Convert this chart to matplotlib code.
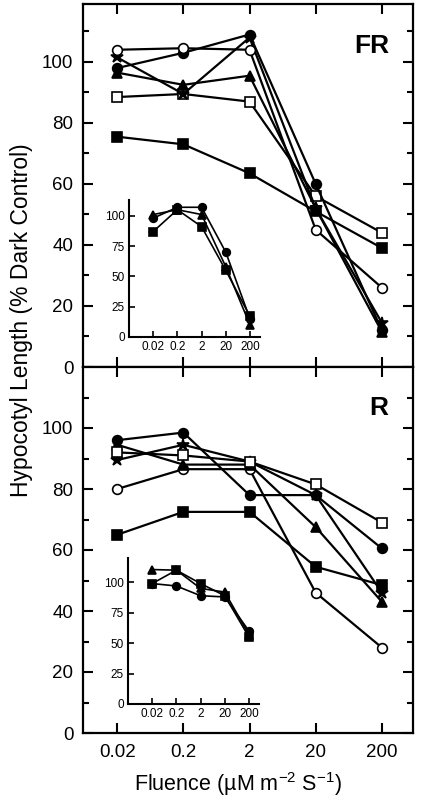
import matplotlib
matplotlib.use("Agg")
import matplotlib.pyplot as plt
from matplotlib.ticker import FixedLocator, NullLocator

plt.rcParams["font.family"] = ["Liberation Sans", "DejaVu Sans"]
plt.rcParams["mathtext.fontset"] = "custom"
plt.rcParams["mathtext.rm"] = "Liberation Sans"
plt.rcParams["mathtext.it"] = "Liberation Sans:italic"

fluence = [0.02, 0.2, 2, 20, 200]
tick_labels = ["0.02", "0.2", "2", "20", "200"]
y_major = [0, 20, 40, 60, 80, 100]
y_minor = [10, 30, 50, 70, 90, 110]
inset_y = [0, 25, 50, 75, 100]

# FR panel (main)
fr_open_circle = [104, 104.5, 104, 45, 26]
fr_filled_circle = [98, 103, 109, 60, 12]
fr_star = [101.5, 89.5, 108, 52, 14.5]
fr_triangle = [96.5, 92.5, 95.5, 52, 11.5]
fr_open_square = [88.5, 89.5, 87, 56, 44]
fr_filled_square = [75.5, 73, 63.5, 51, 39]

# FR inset
fri_circle = [98, 107, 107, 70, 15]
fri_triangle = [101, 105, 101, 58, 10]
fri_square = [87, 105, 91, 55, 17]

# R panel (main)
r_filled_circle = [96, 98.5, 78, 78, 60.5]
r_triangle = [94.5, 88, 88, 67.5, 43]
r_star = [89.5, 94.5, 89, 78, 46]
r_open_square = [92, 91, 89, 81.5, 69]
r_open_circle = [80, 86.5, 86.5, 46, 28]
r_filled_square = [65, 72.5, 72.5, 54.5, 48.5]

# R inset
ri_triangle = [110.5, 110, 95, 92, 57]
ri_square = [99, 110, 99, 89, 55]
ri_circle = [99, 97, 89, 88, 60]

W, H = 421, 801
fig = plt.figure(figsize=(W / 100, H / 100), dpi=100)


def fx(px):
    return px / W


def fy(py):
    return 1 - py / H


def style_main(ax, ymax):
    ax.set_xscale("log")
    ax.set_xlim(0.0061, 590)
    ax.set_ylim(0, ymax)
    ax.xaxis.set_major_locator(FixedLocator(fluence))
    ax.xaxis.set_minor_locator(NullLocator())
    ax.yaxis.set_major_locator(FixedLocator(y_major))
    ax.yaxis.set_minor_locator(FixedLocator(y_minor))
    ax.tick_params(which="both", direction="in", top=True, right=True,
                   width=1.5, labelsize=13.5)
    ax.tick_params(axis="y", pad=7)
    ax.tick_params(which="major", length=7)
    ax.tick_params(which="minor", length=4.5)
    for s in ax.spines.values():
        s.set_linewidth(1.6)


def series(ax, y, marker, filled, ms=7, lw=1.6):
    ax.plot(fluence, y, color="black", linewidth=lw, marker=marker,
            markersize=ms, markerfacecolor="black" if filled else "white",
            markeredgecolor="black", markeredgewidth=1.2, clip_on=False,
            zorder=3)


def style_inset(ax, ymax):
    ax.set_xscale("log")
    ax.set_xlim(0.002, 520)
    ax.set_ylim(0, ymax)
    ax.xaxis.set_major_locator(FixedLocator(fluence))
    ax.xaxis.set_minor_locator(NullLocator())
    ax.set_xticklabels(tick_labels)
    ax.yaxis.set_major_locator(FixedLocator(inset_y))
    ax.yaxis.set_minor_locator(NullLocator())
    ax.tick_params(direction="in", length=4, width=1.2, labelsize=8.5, pad=3)
    ax.spines["top"].set_visible(False)
    ax.spines["right"].set_visible(False)
    ax.spines["left"].set_linewidth(1.5)
    ax.spines["bottom"].set_linewidth(1.5)
    ax.patch.set_alpha(0)


# top panel (FR)
ax1 = fig.add_axes([fx(83), fy(367), fx(413 - 83), (367 - 4) / H])
style_main(ax1, 119)
ax1.tick_params(axis="x", labelbottom=False)
series(ax1, fr_filled_square, "s", True)
series(ax1, fr_open_square, "s", False)
series(ax1, fr_triangle, "^", True)
series(ax1, fr_star, "*", True, ms=9)
series(ax1, fr_filled_circle, "o", True)
series(ax1, fr_open_circle, "o", False)
ax1.text(0.875, 0.885, "FR", transform=ax1.transAxes, fontsize=19,
         fontweight="bold", ha="center", va="center")

# bottom panel (R)
ax2 = fig.add_axes([fx(83), fy(733), fx(413 - 83), (733 - 367) / H])
style_main(ax2, 120)
ax2.set_xticklabels(tick_labels)
ax2.tick_params(axis="x", pad=8)
series(ax2, r_filled_square, "s", True)
series(ax2, r_open_circle, "o", False)
series(ax2, r_triangle, "^", True)
series(ax2, r_star, "*", True, ms=9)
series(ax2, r_filled_circle, "o", True)
series(ax2, r_open_square, "s", False)
ax2.text(0.895, 0.888, "R", transform=ax2.transAxes, fontsize=19,
         fontweight="bold", ha="center", va="center")

# insets
in1 = fig.add_axes([fx(129), fy(337), fx(260 - 129), (337 - 200) / H])
style_inset(in1, 113)
for y, m in [(fri_square, "s"), (fri_triangle, "^"), (fri_circle, "o")]:
    series(in1, y, m, True, ms=5.5, lw=1.2)

in2 = fig.add_axes([fx(128), fy(704), fx(259 - 128), (704 - 558) / H])
style_inset(in2, 120)
for y, m in [(ri_circle, "o"), (ri_square, "s"), (ri_triangle, "^")]:
    series(in2, y, m, True, ms=5.5, lw=1.2)

fig.text(fx(22), fy(320), "Hypocotyl Length (% Dark Control)", rotation=90,
         ha="center", va="center", fontsize=16.5)
fig.text(fx(238), fy(784), "Fluence (µM m$^{-2}$ S$^{-1}$)", ha="center",
         va="center", fontsize=15.5)

fig.savefig("out.png", dpi=100)
